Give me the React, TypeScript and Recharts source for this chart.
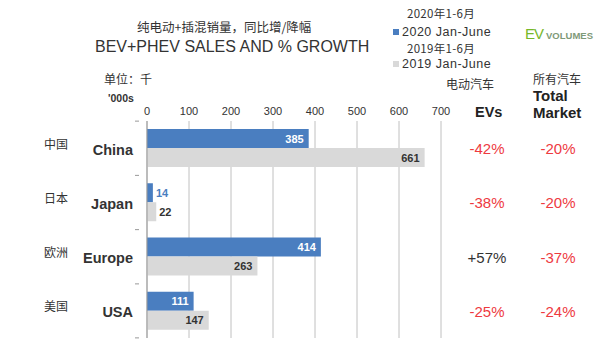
import React from 'react';
import { BarChart, Bar, XAxis, YAxis, CartesianGrid, LabelList } from 'recharts';

const regions = ['China', 'Japan', 'Europe', 'USA'];
const regionsZh = ['中国', '日本', '欧洲', '美国'];
const sales2020 = [385, 14, 414, 111];
const sales2019 = [661, 22, 263, 147];
const evGrowth = ['-42%', '-38%', '+57%', '-25%'];
const marketGrowth = ['-20%', '-20%', '-37%', '-24%'];
const xTicks = [0, 100, 200, 300, 400, 500, 600, 700];

const BLUE = '#4a7ec0';
const GREY = '#d9d9d9';
const RED = '#ee3a3f';
const FONT = '"Liberation Sans", Arial, sans-serif';
const CJK = '"Noto Sans CJK SC", sans-serif';

const data = regions.map((name, i) => ({
	name,
	zh: regionsZh[i],
	y2020: sales2020[i],
	y2019: sales2019[i],
	ev: evGrowth[i],
	market: marketGrowth[i],
}));

const LeftTick = (props: any) => {
	const { x, y, payload } = props;
	const row = data[payload.index];
	const last = payload.index === data.length - 1;
	return (
		<g>
			<line x1={x - 4} x2={x} y1={y - 27} y2={y - 27} stroke='#999' />
			{last && <line x1={x - 4} x2={x} y1={y + 27} y2={y + 27} stroke='#999' />}
			<text x={56} y={y + 0.5} fontFamily={CJK} fontSize={12} fill='#333' textAnchor='middle'>
				{row.zh}
			</text>
			<text x={133} y={y + 6.5} fontFamily={FONT} fontSize={14.5} fontWeight='bold' fill='#333' textAnchor='end'>
				{row.name}
			</text>
		</g>
	);
};

const RightTick = (props: any) => {
	const { y, payload } = props;
	const row = data[payload.index];
	const evColor = row.ev.startsWith('+') ? '#333' : RED;
	return (
		<g fontFamily={FONT} fontSize={15} textAnchor='middle'>
			<text x={487} y={y + 6} fill={evColor}>{row.ev}</text>
			<text x={558} y={y + 6} fill={RED}>{row.market}</text>
		</g>
	);
};

const makeLabel = (inside: string, outside: string) => (props: any) => {
	const { x, y, width, height, value } = props;
	const small = width < 30;
	return (
		<text
			x={small ? x + width + 3 : x + width - 5}
			y={y + height / 2 + 4}
			fontFamily={FONT}
			fontSize={11}
			fontWeight='bold'
			fill={small ? outside : inside}
			textAnchor={small ? 'start' : 'end'}
		>
			{value}
		</text>
	);
};

const abs = (x: number, y: number, extra: React.CSSProperties = {}): React.CSSProperties => ({
	position: 'absolute',
	left: x,
	top: y,
	whiteSpace: 'nowrap',
	fontFamily: FONT,
	color: '#333',
	lineHeight: 1,
	...extra,
});

const swatch = (x: number, y: number, color: string): React.CSSProperties => ({
	position: 'absolute',
	left: x,
	top: y,
	width: 6,
	height: 6,
	background: color,
});

export default function App() {
	return (
		<div style={{ position: 'absolute', left: 0, top: 0, width: 600, height: 345, background: '#fff', overflow: 'hidden' }}>
			{/* titles */}
			<div style={abs(137, 20.5, { fontFamily: CJK, fontSize: 12.5 })}>纯电动+插混销量，同比增/降幅</div>
			<div style={abs(95, 39, { fontSize: 16 })}>BEV+PHEV SALES AND % GROWTH</div>

			{/* legend */}
			<div style={abs(407, 8.25, { fontFamily: CJK, fontSize: 11.5, letterSpacing: 0.3 })}>2020年1-6月</div>
			<div style={swatch(393, 29, BLUE)} />
			<div style={abs(402, 25.8, { fontSize: 12.5, letterSpacing: 0.5 })}>2020 Jan-June</div>
			<div style={abs(407, 42.75, { fontFamily: CJK, fontSize: 11.5, letterSpacing: 0.3 })}>2019年1-6月</div>
			<div style={swatch(393, 61, GREY)} />
			<div style={abs(402, 57.8, { fontSize: 12.5, letterSpacing: 0.5 })}>2019 Jan-June</div>
			<div style={abs(525, 26, { fontSize: 15, color: '#76b82a', letterSpacing: -1 })}>
				EV<span style={{ fontSize: 9.5, fontWeight: 'bold', color: '#7f9a78', marginLeft: 3, letterSpacing: 0 }}>VOLUMES</span>
			</div>

			{/* units */}
			<div style={abs(104, 73, { fontFamily: CJK, fontSize: 12 })}>单位：千</div>
			<div style={abs(108, 93, { fontSize: 10.5, fontWeight: 'bold' })}>'000s</div>

			{/* right column headers */}
			<div style={abs(446, 78, { fontFamily: CJK, fontSize: 12 })}>电动汽车</div>
			<div style={abs(475, 105, { fontSize: 14.5, fontWeight: 'bold', color: '#222' })}>EVs</div>
			<div style={abs(533, 73, { fontFamily: CJK, fontSize: 12 })}>所有汽车</div>
			<div style={abs(533, 88, { fontSize: 15, fontWeight: 'bold', color: '#222' })}>Total</div>
			<div style={abs(533, 105, { fontSize: 15, fontWeight: 'bold', color: '#222' })}>Market</div>

			<BarChart
				width={600}
				height={345}
				data={data}
				layout='vertical'
				margin={{ top: 99, right: 0, bottom: 7, left: 0 }}
				barGap={0}
				barCategoryGap={8}
				style={{ position: 'absolute', left: 0, top: 0 }}
			>
				<CartesianGrid horizontal={false} stroke='#c0c0c0' />
				<XAxis
					type='number'
					orientation='top'
					domain={[0, 700]}
					ticks={xTicks}
					axisLine={false}
					tickLine={false}
					tickSize={0}
					tickMargin={6}
					tick={{ fontFamily: FONT, fontSize: 11, fill: '#333' }}
					height={22}
				/>
				<YAxis
					yAxisId='left'
					type='category'
					dataKey='name'
					width={147}
					axisLine={{ stroke: '#999' }}
					tickLine={false}
					tick={<LeftTick />}
				/>
				<YAxis
					yAxisId='right'
					orientation='right'
					type='category'
					dataKey='name'
					width={159}
					axisLine={false}
					tickLine={false}
					tick={<RightTick />}
				/>
				<Bar yAxisId='left' dataKey='y2020' fill={BLUE} barSize={19} isAnimationActive={false}>
					<LabelList dataKey='y2020' content={makeLabel('#fff', BLUE)} />
				</Bar>
				<Bar yAxisId='left' dataKey='y2019' fill={GREY} barSize={19} isAnimationActive={false}>
					<LabelList dataKey='y2019' content={makeLabel('#333', '#333')} />
				</Bar>
			</BarChart>
		</div>
	);
}
